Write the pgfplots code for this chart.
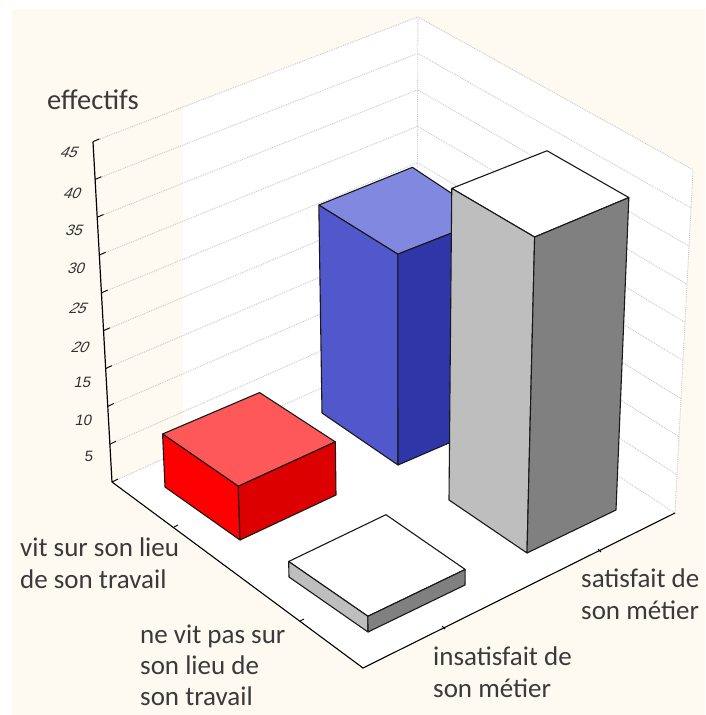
\documentclass[border=0pt]{standalone}
\usepackage{fontspec}
\setmainfont{Carlito}
\newfontfamily\tickfont{Liberation Sans}
\usepackage{pgfplots}
\pgfplotsset{compat=1.18}
\definecolor{paper}{HTML}{FEFAF1}
\definecolor{labeltext}{HTML}{3A3A3A}
\definecolor{gridgrey}{HTML}{C8C8C8}
\definecolor{redtop}{HTML}{FF5858}
\definecolor{redleft}{HTML}{FF0000}
\definecolor{redright}{HTML}{DD0000}
\definecolor{bluetop}{HTML}{8088E0}
\definecolor{blueleft}{HTML}{5058CC}
\definecolor{blueright}{HTML}{2F37A8}
\definecolor{greyleft}{HTML}{BEBEBE}
\definecolor{greyright}{HTML}{808080}
% floor point (fx,fy) in picture pixels, z = effectif: slight perspective towards a far vanishing point
\tikzset{declare function={
  projs(\fy)=7.6+0.002*(\fy-500);
  projx(\fx,\fy,\z)=\fx+(\fx-403)/(5691-\fy)*projs(\fy)*\z;
  projy(\fy,\z)=\fy-projs(\fy)*\z;
}}
\pgfplotsset{
  proj/.style={table/row sep=\\, table/x expr={projx(\thisrow{fx},\thisrow{fy},\thisrow{z})}, table/y expr={projy(\thisrow{fy},\thisrow{z})}},
  face/.style={line join=round, draw=black!90, line width=1.1pt, fill=#1, forget plot},
  wallgrid/.style={gridgrey, densely dotted, line width=0.9pt, forget plot},
}
% left, front, right, back floor corners; height; top, left, right colours
\newcommand{\barbox}[8]{
  \addplot[face=#6, proj] table {fx fy z\\ #1 #5\\ #2 #5\\ #3 #5\\ #4 #5\\ #1 #5\\};
  \addplot[face=#7, proj] table {fx fy z\\ #1 0\\ #2 0\\ #2 #5\\ #1 #5\\ #1 0\\};
  \addplot[face=#8, proj] table {fx fy z\\ #2 0\\ #3 0\\ #3 #5\\ #2 #5\\ #2 0\\};
}
\newcommand{\ticklab}[4]{\node[font=\tickfont\fontsize{15}{15}\selectfont, text=black!80, xslant=#4, inner sep=0pt] at (axis cs:#2,#3) {#1};}
\newcommand{\lab}[3]{\node[anchor=base west, text=labeltext, font=\fontsize{27}{27}\selectfont, inner sep=0pt] at (axis cs:#1,#2) {#3};}
\begin{document}
\begin{tikzpicture}
\begin{axis}[
    width=706pt, height=715pt, scale only axis,
    xmin=0, xmax=706, ymin=0, ymax=715, y dir=reverse,
    axis lines=none, clip=true,
  ]
  % backgrounds
  \addplot[fill=white, draw=none, forget plot] coordinates {(0,0) (706,0) (706,715) (0,715)};
  \addplot[fill=paper, draw=none, forget plot] coordinates {(12,9) (705,9) (705,715) (12,715)};
  \addplot[fill=white, draw=none, forget plot] coordinates {(183,107) (417,17) (693,170) (675,513) (363,668) (112,482) (183,450)};

  % wall grid
  \pgfplotsinvokeforeach{5,10,15,20,25,30,35,40,45}{
    \addplot[wallgrid, proj] table {fx fy z\\ 112 482 #1\\ 417 345 #1\\ 675 513 #1\\};
  }
  \addplot[wallgrid, proj] table {fx fy z\\ 112 482 0\\ 417 345 0\\ 675 513 0\\};
  \addplot[wallgrid, proj] table {fx fy z\\ 417 345 0\\ 417 345 45\\};
  \addplot[wallgrid, proj] table {fx fy z\\ 675 513 0\\ 675 513 45\\};

  % vertical axis with ticks
  \addplot[black, line width=1.2pt, forget plot, proj] table {fx fy z\\ 112 482 0\\ 112 482 45\\};
  \pgfplotsinvokeforeach{0,5,10,15,20,25,30,35,40,45}{
    \addplot[black, line width=0.9pt, forget plot, proj] table {fx fy z\\ 112 482 #1\\ 118 479 #1\\};
  }
  % floor edges with ticks
  \addplot[black, line width=1.1pt, forget plot] coordinates {(112,482) (363,668) (675,513)};
  \addplot[black, line width=0.9pt, forget plot] coordinates {(174,527) (178,525)};
  \addplot[black, line width=0.9pt, forget plot] coordinates {(300,621) (304,619)};
  \addplot[black, line width=0.9pt, forget plot] coordinates {(442,626) (445,629)};
  \addplot[black, line width=0.9pt, forget plot] coordinates {(598,549) (601,552)};

  % bars, back to front
  \barbox{322 413}{398 465}{486 427}{412 373}{28}{bluetop}{blueleft}{blueright}
  \barbox{165 487}{240 540}{336 495}{261 445}{7}{redtop}{redleft}{redright}
  \barbox{449 500}{527 553}{616 510}{539 459}{41}{white}{greyleft}{greyright}
  \barbox{289 577}{368 632}{465 585}{386 530}{2}{white}{greyleft}{greyright}

  % tick labels
  \ticklab{45}{70}{152}{0.45}
  \ticklab{40}{73}{193}{0.4}
  \ticklab{35}{75}{230}{0.35}
  \ticklab{30}{77}{268}{0.3}
  \ticklab{25}{79}{308}{0.5}
  \ticklab{20}{81}{347}{0.45}
  \ticklab{15}{83}{382}{0.2}
  \ticklab{10}{84}{420}{0.2}
  \ticklab{5}{89}{456}{0.1}

  % labels
  \node[anchor=base west, text=labeltext, font=\fontsize{28.5}{28.5}\selectfont, inner sep=0pt] at (axis cs:47,109) {effectifs};
  \lab{20}{556}{vit sur son lieu}
  \lab{20}{588}{de son travail}
  \lab{140}{643}{ne vit pas sur}
  \lab{140}{674}{son lieu de}
  \lab{140}{705}{son travail}
  \lab{581}{587}{satisfait de}
  \lab{581}{619}{son métier}
  \lab{433}{665}{insatisfait de}
  \lab{433}{697}{son métier}
\end{axis}
\end{tikzpicture}
\end{document}
